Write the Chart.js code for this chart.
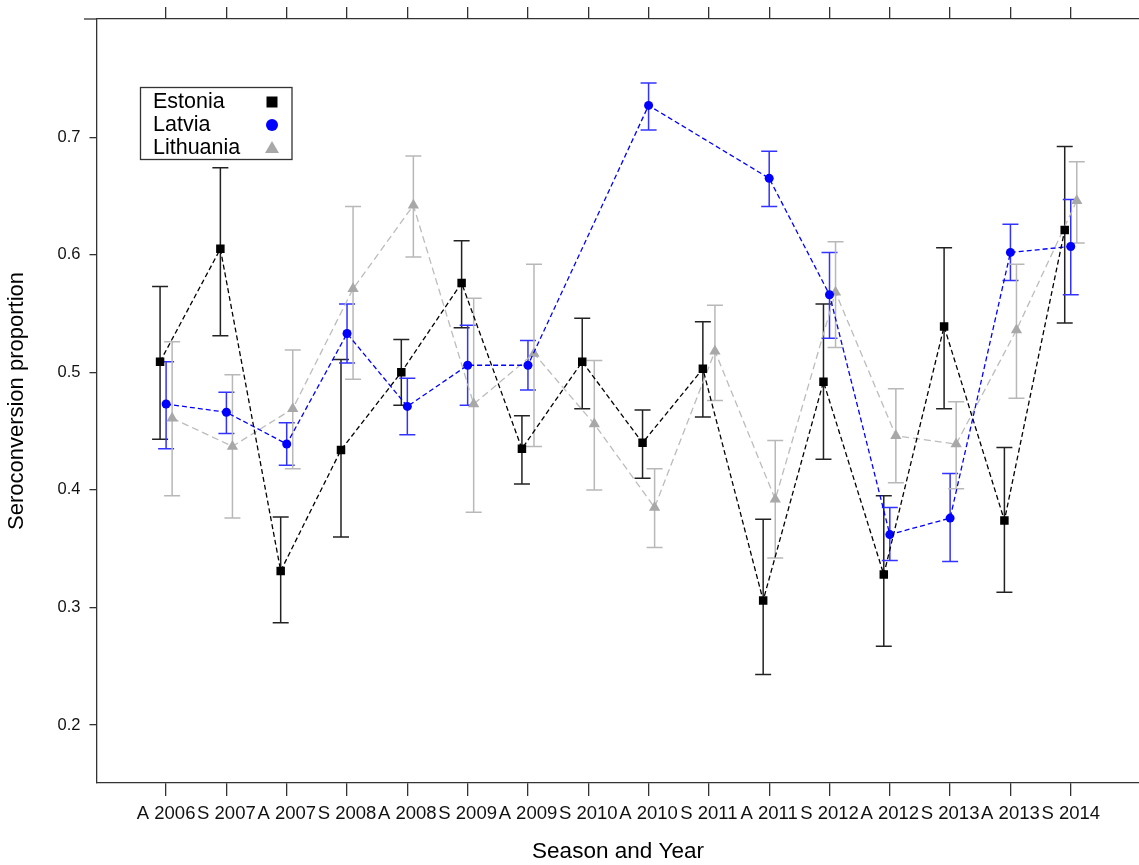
<!DOCTYPE html>
<html>
<head>
<meta charset="utf-8">
<script src="https://cdn.jsdelivr.net/npm/chart.js@4.4.0/dist/chart.umd.min.js"></script>
<style>
  html, body { margin: 0; padding: 0; background: #fff; overflow: hidden; }
  #wrap { position: absolute; left: 0; top: 0; width: 1146px; height: 865px; }
</style>
</head>
<body>
<div id="wrap"><canvas id="chart"></canvas></div>
<script>
const categories = ['A 2006', 'S 2007', 'A 2007', 'S 2008', 'A 2008', 'S 2009', 'A 2009', 'S 2010',
                    'A 2010', 'S 2011', 'A 2011', 'S 2012', 'A 2012', 'S 2013', 'A 2013', 'S 2014'];

const estonia   = [0.509, 0.605, 0.331, 0.434, 0.500, 0.576, 0.435, 0.509, 0.440, 0.503, 0.306, 0.492, 0.328, 0.539, 0.374, 0.621];
const estoniaLo = [0.443, 0.531, 0.287, 0.360, 0.472, 0.538, 0.405, 0.469, 0.410, 0.462, 0.243, 0.426, 0.267, 0.469, 0.313, 0.542];
const estoniaHi = [0.573, 0.674, 0.377, 0.511, 0.528, 0.612, 0.463, 0.546, 0.468, 0.543, 0.375, 0.558, 0.395, 0.606, 0.436, 0.692];

const latvia   = [0.473, 0.466, 0.439, 0.533, 0.471, 0.506, 0.506, null, 0.727, null, 0.665, 0.566, 0.362, 0.376, 0.602, 0.607];
const latviaLo = [0.435, 0.448, 0.421, 0.508, 0.447, 0.472, 0.485, null, 0.706, null, 0.641, 0.529, 0.340, 0.339, 0.578, 0.566];
const latviaHi = [0.509, 0.483, 0.457, 0.558, 0.495, 0.540, 0.527, null, 0.746, null, 0.688, 0.602, 0.385, 0.414, 0.626, 0.647];

const lithuania   = [0.461, 0.437, 0.469, 0.571, 0.642, 0.473, 0.516, 0.456, 0.385, 0.518, 0.392, 0.568, 0.446, 0.439, 0.536, 0.646];
const lithuaniaLo = [0.395, 0.376, 0.418, 0.494, 0.598, 0.381, 0.437, 0.400, 0.351, 0.476, 0.342, 0.521, 0.406, 0.401, 0.478, 0.610];
const lithuaniaHi = [0.526, 0.498, 0.519, 0.641, 0.684, 0.563, 0.592, 0.510, 0.418, 0.557, 0.442, 0.611, 0.486, 0.475, 0.592, 0.679];

const yTicks = [0.2, 0.3, 0.4, 0.5, 0.6, 0.7];

const FONT = '"Liberation Sans", Arial, sans-serif';
const AXIS = '#333';

function toPoints(values, shift) {
    return values.map((v, i) => ({ x: i + shift, y: v }));
}

function makeSet(label, values, lo, hi, shift, color, barColor, style, radius, dash) {
    return {
        label: label,
        data: toPoints(values, shift),
        errLo: lo,
        errHi: hi,
        shift: shift,
        barColor: barColor,
        borderColor: color,
        backgroundColor: color,
        pointBackgroundColor: color,
        pointBorderColor: color,
        pointStyle: style,
        pointRadius: radius,
        pointBorderWidth: 0,
        borderWidth: 1.3,
        borderDash: dash,
        tension: 0,
        fill: false,
        spanGaps: true
    };
}

const datasets = [
    makeSet('Estonia', estonia, estoniaLo, estoniaHi, -0.1, '#000000', '#222222', 'rect', 6, [5, 3]),
    makeSet('Latvia', latvia, latviaLo, latviaHi, 0, '#0000ff', '#3333ff', 'circle', 4.5, [5, 3]),
    makeSet('Lithuania', lithuania, lithuaniaLo, lithuaniaHi, 0.1, '#a8a8a8', '#b8b8b8', 'triangle', 6.5, [7, 4])
];
datasets[2].borderColor = '#bcbcbc';

const errorBars = {
    id: 'errorBars',
    beforeDatasetsDraw(chart) {
        const ctx = chart.ctx;
        const xs = chart.scales.x, ys = chart.scales.y;
        ctx.save();
        ctx.lineWidth = 1.5;
        chart.data.datasets.forEach(ds => {
            ctx.strokeStyle = ds.barColor;
            ds.errLo.forEach((lo, i) => {
                const hi = ds.errHi[i];
                if (lo === null || hi === null) return;
                const x = xs.getPixelForValue(i + ds.shift);
                const y1 = ys.getPixelForValue(lo);
                const y2 = ys.getPixelForValue(hi);
                ctx.beginPath();
                ctx.moveTo(x, y1); ctx.lineTo(x, y2);
                ctx.moveTo(x - 8, y1); ctx.lineTo(x + 8, y1);
                ctx.moveTo(x - 8, y2); ctx.lineTo(x + 8, y2);
                ctx.stroke();
            });
        });
        ctx.restore();
    }
};

const boxLegend = {
    id: 'boxLegend',
    afterDraw(chart) {
        const ctx = chart.ctx;
        ctx.save();
        ctx.strokeStyle = AXIS;
        ctx.lineWidth = 1.3;
        // small stub of the top axis to the left of the frame
        ctx.beginPath();
        ctx.moveTo(84, chart.chartArea.top);
        ctx.lineTo(chart.chartArea.left, chart.chartArea.top);
        ctx.stroke();

        ctx.fillStyle = '#fff';
        ctx.fillRect(140.5, 87.5, 151.5, 72);
        ctx.strokeRect(140.5, 87.5, 151.5, 72);
        ctx.font = '21.5px ' + FONT;
        ctx.textBaseline = 'middle';
        ctx.textAlign = 'left';
        const rows = [102, 125, 148];
        chart.data.datasets.forEach((ds, k) => {
            const y = rows[k];
            ctx.fillStyle = '#000';
            ctx.fillText(ds.label, 153, y);
            ctx.fillStyle = ds.pointBackgroundColor;
            ctx.beginPath();
            if (ds.pointStyle === 'rect') {
                ctx.rect(266.5, y - 5.5, 11, 11);
            } else if (ds.pointStyle === 'circle') {
                ctx.arc(272, y, 6, 0, Math.PI * 2);
            } else {
                ctx.moveTo(272, y - 7);
                ctx.lineTo(279, y + 5);
                ctx.lineTo(265, y + 5);
                ctx.closePath();
            }
            ctx.fill();
        });
        ctx.restore();
    }
};

const xMin = -1.154, xMax = 16.14;

new Chart(document.getElementById('chart').getContext('2d'), {
    type: 'line',
    data: { datasets: datasets },
    options: {
        responsive: true,
        maintainAspectRatio: false,
        animation: false,
        layout: { padding: 0 },
        plugins: { legend: { display: false }, tooltip: { enabled: false } },
        scales: {
            x: {
                type: 'linear',
                position: 'bottom',
                min: xMin,
                max: xMax,
                afterBuildTicks: s => { s.ticks = categories.map((c, i) => ({ value: i })); },
                afterFit: s => { s.height = 82; },
                ticks: {
                    autoSkip: false,
                    maxRotation: 0,
                    minRotation: 0,
                    padding: 7,
                    color: '#111',
                    font: { family: FONT, size: 18.5 },
                    callback: v => categories[Math.round(v)]
                },
                grid: { drawOnChartArea: false, tickLength: 13, color: AXIS, lineWidth: 1.3 },
                border: { color: AXIS, width: 1.3 },
                title: {
                    display: true,
                    text: 'Season and Year',
                    color: '#000',
                    font: { family: FONT, size: 22.5 },
                    padding: { top: 0, bottom: 0 }
                }
            },
            xTop: {
                type: 'linear',
                position: 'top',
                min: xMin,
                max: xMax,
                afterBuildTicks: s => { s.ticks = categories.map((c, i) => ({ value: i })); },
                afterFit: s => { s.height = 19; },
                ticks: { display: false },
                grid: { drawOnChartArea: false, tickLength: 12, color: AXIS, lineWidth: 1.3 },
                border: { color: AXIS, width: 1.3 }
            },
            y: {
                min: 0.1507,
                max: 0.8005,
                afterBuildTicks: s => { s.ticks = yTicks.map(v => ({ value: v })); },
                afterFit: s => { s.width = 96.5; },
                ticks: {
                    padding: 9,
                    color: '#111',
                    font: { family: FONT, size: 16.5 },
                    callback: v => v.toFixed(1)
                },
                grid: { drawOnChartArea: false, tickLength: 7, color: AXIS, lineWidth: 1.3 },
                border: { color: AXIS, width: 1.3 },
                title: {
                    display: true,
                    text: 'Seroconversion proportion',
                    color: '#000',
                    font: { family: FONT, size: 22 },
                    padding: { top: 4, bottom: 0 }
                }
            }
        }
    },
    plugins: [errorBars, boxLegend]
});
</script>
</body>
</html>
